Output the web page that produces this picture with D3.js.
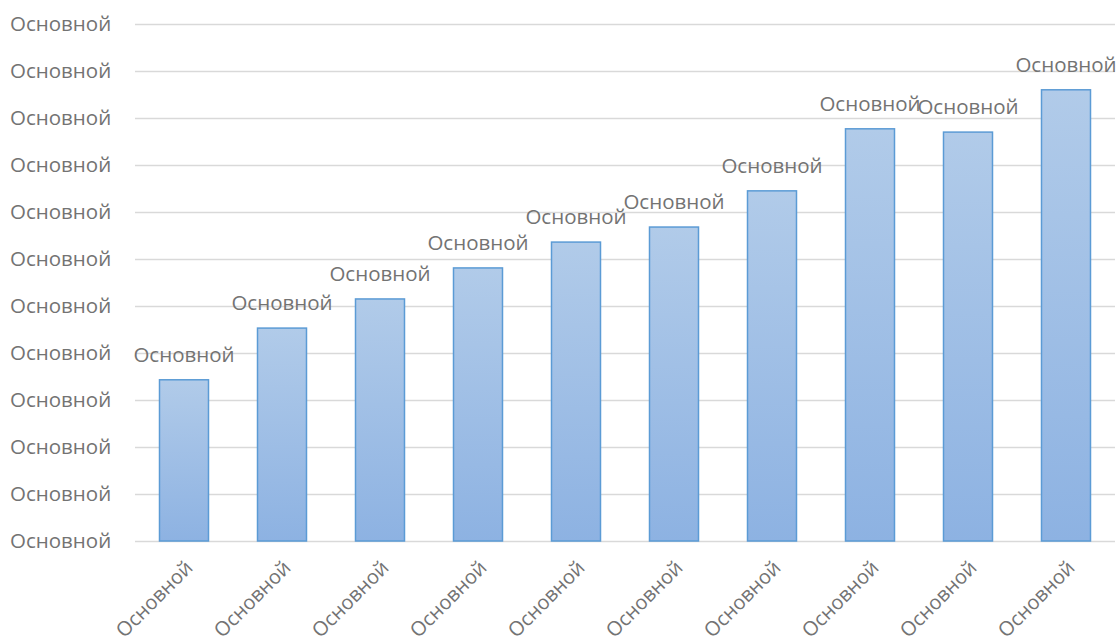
<!DOCTYPE html>
<html>
<head>
<meta charset="utf-8">
<script src="https://cdn.jsdelivr.net/npm/d3@7"></script>
<style>
  body { margin: 0; background: #fff; }
  text { font-family: "Open Sans", sans-serif; fill: #737373; }
</style>
</head>
<body>
<script>
// data
const categories = ["Основной", "Основной", "Основной", "Основной", "Основной",
                    "Основной", "Основной", "Основной", "Основной", "Основной"];
const values = [3.43, 4.53, 5.15, 5.81, 6.36, 6.68, 7.45, 8.77, 8.70, 9.60];
const yTicks = [0, 1, 2, 3, 4, 5, 6, 7, 8, 9, 10, 11];
const yTickLabel = "Основной";
const barLabel = "Основной";

const outerWidth = 1120, outerHeight = 642;
const margin = {top: 24, right: 5, bottom: 101, left: 135};
const width = outerWidth - margin.left - margin.right;
const height = outerHeight - margin.top - margin.bottom;

const data = categories.map((c, i) => ({i: i, cat: c, value: values[i]}));

const xScale = d3.scaleBand()
    .domain(data.map(d => d.i))
    .range([0, 980])
    .paddingInner(0.5)
    .paddingOuter(0.25);

const yScale = d3.scaleLinear()
    .domain([0, 11])
    .range([height, 0]);

const svg = d3.select("body").append("svg")
    .attr("width", outerWidth)
    .attr("height", outerHeight);

const defs = svg.append("defs");
const grad = defs.append("linearGradient")
    .attr("id", "barGrad")
    .attr("x1", 0).attr("y1", 0).attr("x2", 0).attr("y2", 1);
grad.append("stop").attr("offset", "0%").attr("stop-color", "#b1cbe9");
grad.append("stop").attr("offset", "100%").attr("stop-color", "#8db2e2");

const g = svg.append("g")
    .attr("transform", `translate(${margin.left},${margin.top})`);

// gridlines
g.append("g")
    .selectAll("line")
    .data(yTicks)
    .join("line")
    .attr("x1", 0)
    .attr("x2", 980)
    .attr("y1", d => Math.round(yScale(d)) + 0.5)
    .attr("y2", d => Math.round(yScale(d)) + 0.5)
    .attr("stroke", "#d9d9d9")
    .attr("stroke-width", 1.3);

// y axis labels
svg.append("g")
    .selectAll("text")
    .data(yTicks)
    .join("text")
    .attr("x", 10)
    .attr("y", d => margin.top + yScale(d))
    .attr("dy", "0.35em")
    .attr("font-size", 20.5)
    .text(yTickLabel);

// bars
g.selectAll("rect.bar")
    .data(data)
    .join("rect")
    .attr("class", "bar")
    .attr("x", d => xScale(d.i))
    .attr("y", d => yScale(d.value))
    .attr("width", xScale.bandwidth())
    .attr("height", d => height - yScale(d.value))
    .attr("fill", "url(#barGrad)")
    .attr("stroke", "#5b9bd5")
    .attr("stroke-width", 1.5);

// value labels
g.selectAll("text.val")
    .data(data)
    .join("text")
    .attr("class", "val")
    .attr("x", d => xScale(d.i) + xScale.bandwidth() / 2)
    .attr("y", d => yScale(d.value) - 18)
    .attr("text-anchor", "middle")
    .attr("font-size", 20.5)
    .text(barLabel);

// x axis labels, rotated
g.selectAll("text.cat")
    .data(data)
    .join("text")
    .attr("class", "cat")
    .attr("transform", d => `translate(${xScale(d.i) + xScale.bandwidth() / 2 + 10},${height + 28}) rotate(-45)`)
    .attr("text-anchor", "end")
    .attr("font-size", 20)
    .text(d => d.cat);
</script>
</body>
</html>
